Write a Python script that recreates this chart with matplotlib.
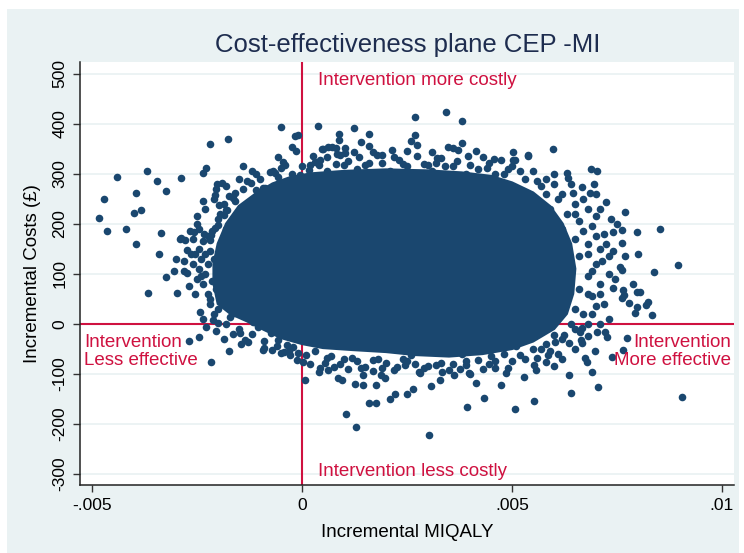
import numpy as np
import matplotlib
matplotlib.use("Agg")
import matplotlib.pyplot as plt
from matplotlib.patches import Rectangle

plt.rcParams['font.family'] = ['Liberation Sans', 'DejaVu Sans']

# incremental QALY values are kept in thousandths (1e-3), costs in GBP
# solid centre of the bootstrap cloud (outline of the fully overlapped area)
core_q = [-2.0, -2.1, -2.1, -2.0, -1.8, -1.5, -1.1, -0.7, -0.3,
          0.2, 1.0, 2.0, 3.0, 3.8, 4.5, 5.0,
          5.5, 5.9, 6.2, 6.4, 6.5, 6.45, 6.3, 6.0,
          5.5, 5.0, 4.3, 3.5, 2.7, 2.0, 1.2, 0.5, 0.0, -0.5, -0.9, -1.3, -1.7]
core_c = [40, 80, 120, 160, 200, 235, 260, 280, 292,
          300, 305, 308, 306, 302, 295, 282,
          262, 235, 200, 160, 110, 60, 20, -10,
          -35, -50, -60, -65, -62, -56, -52, -48, -40, -28, -12, 5, 20]

# draws hugging the edge of the solid centre
edge_q = [-2.25, -2.3, -2.2, -2.15, -2.0, -1.85, -1.6, -1.3, -1.0, -0.7, -2.4, -2.35, -2.5,
          -2.1, -1.8, -1.5, -1.2, -0.9, -0.6, -0.3, 0.1,
          0.0, 0.4, 1.0, 1.6, 2.4, 3.0, 3.6, 4.2, 4.8, 5.3,
          5.7, 6.1, 6.5, 6.7, 6.8, 6.9, 6.8, 6.7, 6.5, 6.2,
          5.7, 5.2, 4.6, 3.9, 3.2, 2.5, 1.8, 1.2, 0.6]
edge_c = [60, 100, 145, 185, 210, 240, 262, 285, 290, 305, 130, 165, 90,
          20, 0, -10, -20, -35, -45, -55, -62,
          315, 318, 318, 322, 320, 318, 315, 310, 300, 290,
          275, 250, 220, 185, 140, 105, 60, 20, -10, -30,
          -50, -62, -75, -82, -82, -75, -70, -68, -68]

# second, looser ring of draws around the centre
band_q = [-2.55, -2.45, -2.6, -2.5, -2.3, -2.2, -2.35, -2.05, -1.85, -1.65, -1.45, -2.7,
          -2.65, -2.45, -2.1, -1.8, -1.5, -1.2,
          -0.4, 0.25, 0.9, 1.35, 1.9, 2.2, 2.75, 3.3, 3.95, 4.45, 5.0, 5.5, 5.8, 2.5, 1.6,
          6.0, 6.4, 6.7, 7.1, 7.0, 7.25, 7.15, 7.45, 7.1, 7.0, 6.8, 7.1, 6.5, 6.2, 5.9,
          7.4, 7.35, 6.95,
          0.2, 0.55, 0.9, 1.4, 1.7, 2.2, 2.8, 3.5, 4.0, 4.45, 4.9, 5.3, 5.6, -0.1, -0.5]
band_c = [60, 110, 170, 215, 230, 40, 10, -15, -30, -20, -40, 75,
          140, 190, 250, 275, 290, 305,
          318, 335, 338, 333, 338, 333, 335, 332, 335, 322, 315, 305, 290, 345, 355,
          300, 280, 250, 230, 175, 160, 125, 90, 60, 35, -25, 0, -50, -70, -55,
          145, 210, 280,
          -80, -78, -80, -88, -95, -92, -98, -92, -100, -80, -88, -70, -68, -58, -58]

# draws above / left of the centre
upper_q = [-4.83, -4.72, -4.65, -4.40, -4.20, -4.00, -3.95, -3.83, -3.95, -3.68, -3.46, -3.36,
           -3.24, -3.41, -2.88, -2.90, -2.19, -1.77, -2.35, -2.29, -2.36, -1.40, -1.09, -0.50,
           -0.17, -0.09, -0.25, -0.14, -0.56, -0.45, -2.03, -1.91, -2.05, -2.07, -1.74, -1.98,
           -1.40, -1.22, -2.51, -2.66, -2.56, -2.88, -2.78, -2.73, -2.55, -3.25, -3.04, -2.81,
           -2.74, -1.79, -1.85, -2.07, -1.99, -2.25, -2.19, -1.55, -1.46, -1.08, -0.88, -0.74,
           -0.25, -0.05, 0.17, -0.49, -0.57, -1.65, -1.60, -1.10, -0.93, -0.85, -0.76, -0.64,
           -2.33, -2.17, -1.96, -1.82,
           0.39, 0.48, 0.87, 0.87, 1.24, 1.40, 1.59, 0.71, 0.82, 0.84, 2.69, 3.42, 3.80, 2.69,
           2.60, 2.75, 3.80, 3.48, 3.60, 3.72, 4.14, 5.03, 5.39, 3.09, 2.14, 1.70, 1.78, 0.51,
           0.63, 1.02, 1.02, 1.24, 4.30, 4.56, 4.75, 5.03, 3.21, 3.19, 0.31, 0.43, 0.59,
           0.2, 0.8, 1.1, 1.5, 1.9, 2.3, 2.5, 2.9, 3.4, 3.7, 4.0, 4.4, 4.9, 5.2, 1.3, 2.1,
           2.7, 3.9, 0.6, 4.6, 1.7, 3.1]
upper_c = [211, 249, 185, 294, 189, 222, 261, 227, 159, 305, 286, 181,
           265, 139, 291, 170, 359, 369, 302, 311, 246, 315, 300, 394,
           375, 377, 354, 345, 333, 324, 279, 282, 269, 257, 255, 237,
           269, 281, 199, 185, 184, 171, 167, 147, 139, 94, 106, 105,
           101, 227, 217, 191, 197, 175, 167, 204, 211, 224, 271, 269,
           299, 297, 307, 311, 294, 252, 245, 268, 272, 268, 303, 301,
           180, 177, 220, 227,
           395, 349, 379, 368, 391, 363, 379, 353, 351, 340, 413, 423, 405, 377,
           366, 357, 362, 354, 351, 347, 345, 344, 337, 343, 347, 344, 337, 349,
           354, 351, 341, 343, 333, 329, 327, 327, 331, 321, 324, 327, 334,
           318, 320, 325, 318, 322, 328, 315, 320, 315, 325, 318, 312, 310, 305, 310, 305,
           300, 300, 305, 300, 300, 305]

# draws below the centre and on the lower left
lower_q = [-3.66, -2.98, -2.43, -2.29, -2.69, -2.45, -2.17, -1.75, -2.11, -1.99, -1.48, -1.36,
           -1.28, -0.94, -0.90, -0.72, -0.44, -0.29, -0.13, 0.03, 0.08, 0.41, 0.43, 0.63,
           0.75, 0.85, 0.95, 1.04, 1.29, 1.25, 1.46, 1.45, 1.50, 1.60, -1.63, -1.71, -1.16,
           -1.04, -0.75, -0.56, -0.36, -0.21,
           -2.40, -2.35, -2.15, -2.05, -2.25, -2.10, -2.0, -1.9, -2.2, -2.0, -2.6, -2.45, -2.3,
           -3.0, -2.8, -1.9, -1.8,
           2.78, 2.90, 2.64, 2.51, 2.22, 2.10, 1.75, 1.98, 1.89, 1.76, 2.26, 2.46, 3.02, 3.08,
           3.29, 3.33, 3.61, 3.77, 3.97, 3.92, 4.15, 4.33, 4.60, 4.74, 4.86, 5.06, 5.29, 5.53,
           5.52, 5.56,
           0.3, 0.7, 1.0, 1.3, 1.7, 2.0, 2.4, 2.7, 3.0, 3.3, 3.6, 3.9, 4.2, 4.5, 4.8, 5.1,
           5.3, 5.5, 5.0, 4.3, 1.1, 1.9, 2.6, 3.8, 4.6]
lower_c = [61, 62, 24, -6, -34, -26, -77, -55, 7, 2, -19, -33,
           -36, -53, -49, -53, -56, -63, -73, -76, -113, -96, -89, -93,
           -87, -109, -113, -181, -207, -121, -123, -103, -86, -158, 21, 14, 4,
           -6, -19, -33, -43, -46,
           95, 80, 85, 70, 120, 130, 110, 45, 50, 30, 120, 150, 140,
           130, 125, 165, 190,
           -96, -89, -130, -141, -141, -151, -158, -109, -103, -123, -87, -83, -222, -125,
           -113, -97, -103, -91, -99, -166, -119, -149, -89, -123, -99, -171, -107, -154,
           -83, -93,
           -55, -65, -70, -75, -72, -78, -70, -80, -85, -78, -80, -75, -72, -65, -60, -45,
           -30, -50, -75, -90, -90, -88, -62, -60, -45]

# draws on the right (more effective) side
right_q = [5.97, 5.39, 5.06, 6.88, 7.02, 6.30, 6.34, 6.66, 6.86, 6.46, 7.25, 7.69, 8.52, 7.97,
           7.61, 7.41, 7.61, 8.01, 7.69, 8.96, 8.37, 7.89, 7.97, 8.05, 8.25, 8.19, 8.33, 7.97,
           7.93, 7.65, 7.61, 7.79, 7.41, 7.57, 7.61, 7.66,
           6.0, 6.2, 6.5, 6.8, 7.0, 6.3, 6.6, 6.9, 7.2, 6.2, 6.5, 6.8, 7.1, 7.3, 6.3, 6.6,
           7.0, 7.3, 6.1, 6.4, 6.8, 7.1, 6.2, 6.6, 6.9, 7.2, 6.1, 6.5, 6.9, 7.3, 5.9, 5.8,
           5.6, 7.5, 7.0, 6.0, 6.4, 6.8,
           9.04, 7.74, 7.64, 7.38, 7.22, 7.26, 7.05, 6.90, 6.98, 7.02, 6.75, 6.79, 6.41, 6.35,
           6.67, 6.64, 6.63, 6.67, 6.23, 6.35, 6.03, 5.99, 5.99, 5.81, 5.86, 5.7, 5.9, 6.1, 5.8]
right_c = [349, 336, 327, 309, 306, 301, 291, 274, 261, 261, 243, 223, 190, 183,
           187, 183, 161, 139, 135, 117, 104, 79, 63, 64, 43, 37, 17, 34,
           21, 67, 51, 41, 71, 114, 107, 57,
           280, 260, 240, 230, 215, 220, 205, 195, 180, 190, 170, 160, 150, 135, 150, 135,
           120, 100, 120, 110, 95, 80, 80, 70, 55, 40, 40, 30, 20, 10, 230, 260,
           285, 200, 260, 10, 0, 0,
           -146, -29, -53, -66, -16, -26, -126, -96, -54, -16, -69, -76, -139, -103,
           -39, -33, -16, -9, -23, -39, -36, -23, -85, -76, -63, -10, 5, -60, -40]

x_ticks = [-0.005, 0, 0.005, 0.01]
x_tick_labels = ['-.005', '0', '.005', '.01']
y_ticks = [-300, -200, -100, 0, 100, 200, 300, 400, 500]

navy = '#1a476f'
red = '#cf1140'
bg = '#eaf2f3'

fig = plt.figure(figsize=(7.44, 5.53), dpi=100, facecolor='white')
fig.patches.append(Rectangle((7 / 744, 0), 732 / 744, 544 / 553, transform=fig.transFigure,
                             facecolor=bg, edgecolor='none', zorder=-1))
ax = fig.add_axes([80 / 744, 68 / 553, 654 / 744, 423 / 553])
ax.set_facecolor('white')

ax.set_xlim(-0.005286, 0.010286)
ax.set_ylim(-322.6, 523.5)

for v in y_ticks:
    ax.axhline(v, color=bg, lw=1.3, zorder=1)
ax.axhline(0, color=red, lw=1.5, zorder=2)
ax.axvline(0, color=red, lw=1.5, zorder=2)

ax.fill(np.array(core_q) / 1000, core_c, color=navy, lw=2, zorder=3)
groups = [(edge_q, edge_c), (band_q, band_c), (upper_q, upper_c),
          (lower_q, lower_c), (right_q, right_c)]
for qs, cs in groups:
    ax.scatter(np.array(qs) / 1000, cs, s=30, color=navy, linewidths=0, zorder=4)

ax.text(0.00038, 487, 'Intervention more costly', color=red, fontsize=13.5, va='center', zorder=5)
ax.text(0.00038, -295, 'Intervention less costly', color=red, fontsize=13.5, va='center', zorder=5)
ax.text(-0.00519, -56, 'Intervention\nLess effective', color=red, fontsize=13.5,
        va='center', ha='left', linespacing=1.05, zorder=5)
ax.text(0.01021, -56, 'Intervention\nMore effective', color=red, fontsize=13.5,
        va='center', ha='right', multialignment='right', linespacing=1.05, zorder=5)

ax.set_xticks(x_ticks)
ax.set_xticklabels(x_tick_labels)
ax.set_yticks(y_ticks)
ax.set_yticklabels([str(v) for v in y_ticks], rotation=90, va='center')
ax.tick_params(axis='both', labelsize=12.5, length=5, width=1, color='#333333', pad=4)

for side in ['top', 'right']:
    ax.spines[side].set_visible(False)
for side in ['bottom', 'left']:
    ax.spines[side].set_color('#222222')
    ax.spines[side].set_linewidth(1.1)

ax.set_xlabel('Incremental MIQALY', fontsize=13.5, labelpad=8)
ax.set_ylabel('Incremental Costs (£)', fontsize=13.5, labelpad=8)
fig.text(408 / 744, 1 - 45 / 553, 'Cost-effectiveness plane CEP -MI', color='#1e2d4f',
         fontsize=18.5, ha='center', va='center')

fig.savefig('out.png', dpi=100, facecolor='white')
